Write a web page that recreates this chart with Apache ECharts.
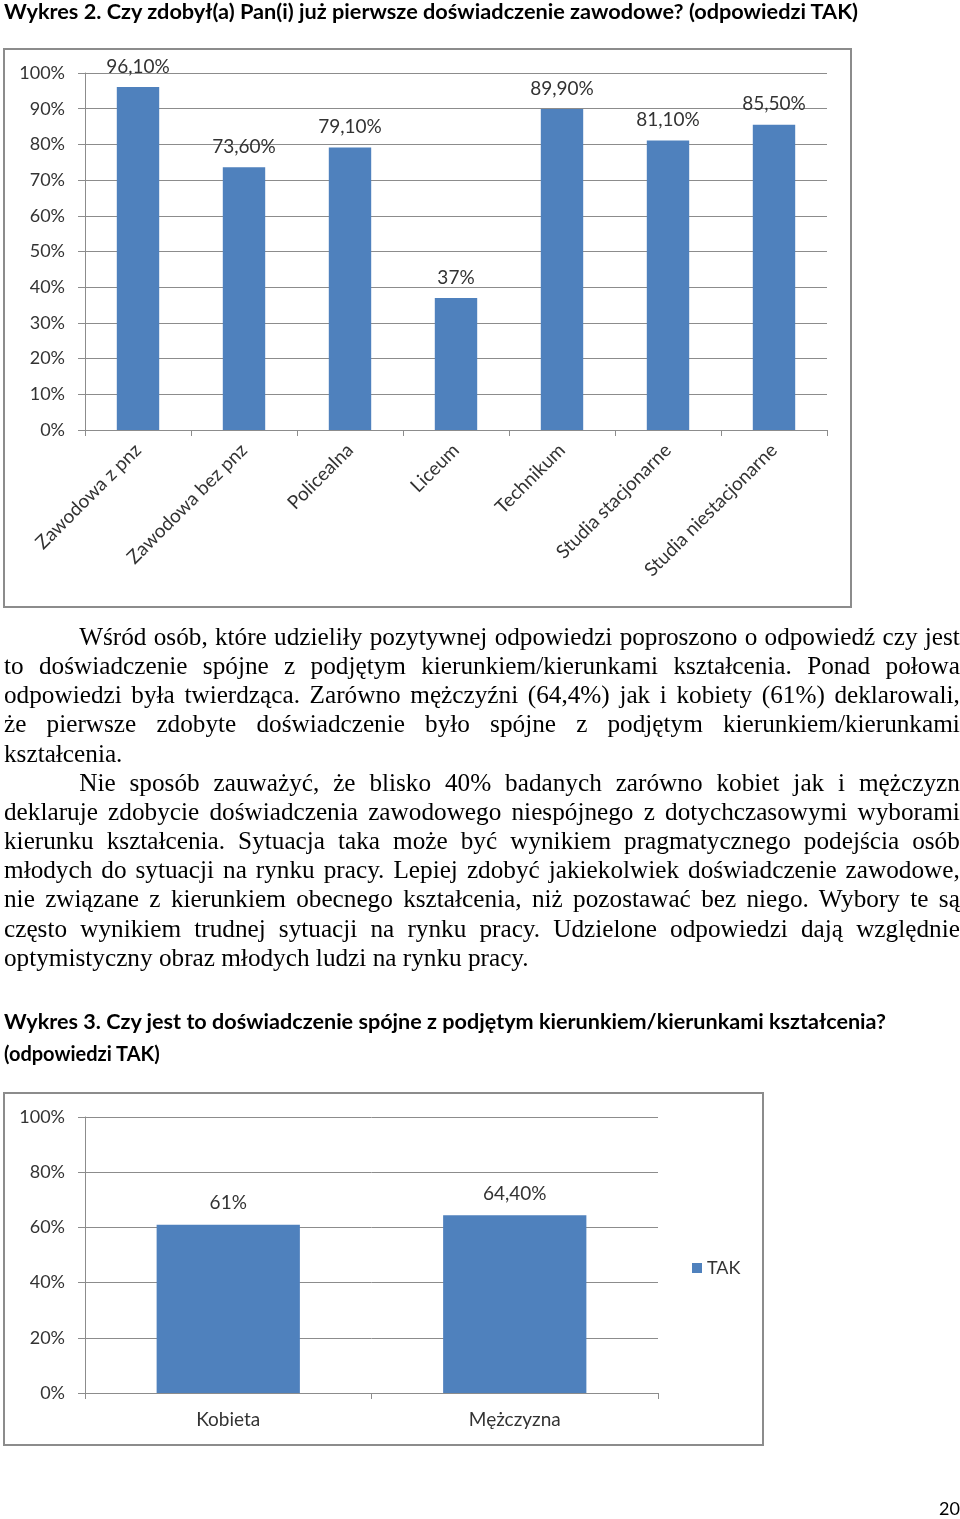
<!DOCTYPE html>
<html>
<head>
<meta charset="utf-8">
<script src="https://cdn.jsdelivr.net/npm/echarts@6/dist/echarts.min.js"></script>
<style>
  html, body { margin: 0; padding: 0; background: #fff; }
  #page { position: relative; width: 960px; height: 1519px; overflow: hidden; }
  #chart { position: absolute; left: 0; top: 0; width: 960px; height: 1519px; }
  .t { position: absolute; white-space: nowrap; font-family: Lato, "Open Sans", sans-serif; font-weight: bold; color: #000; }
  .p { position: absolute; left: 4px; width: 928px; transform: scaleX(1.03); transform-origin: left top; font-family: "Liberation Serif", "Times New Roman", serif; font-size: 24.5px; line-height: 29.15px; color: #000; }
  .p div { text-align: justify; text-align-last: justify; white-space: nowrap; }
  .p div.last { text-align-last: left; }
  .p div.ind { padding-left: 73px; }
</style>
</head>
<body>
<div id="page">
  <div id="chart"></div>
  <div class="t" id="t1" style="left:4px; top:0px; font-size:20px; line-height:22px;">Wykres 2. Czy zdobył(a) Pan(i) już pierwsze doświadczenie zawodowe? (odpowiedzi TAK)</div>
  <div class="p" style="top:622px;">
    <div class="ind">Wśród osób, które udzieliły pozytywnej odpowiedzi poproszono o odpowiedź czy jest</div>
    <div>to doświadczenie spójne z podjętym kierunkiem/kierunkami kształcenia. Ponad połowa</div>
    <div>odpowiedzi była twierdząca. Zarówno mężczyźni (64,4%) jak i kobiety (61%) deklarowali,</div>
    <div>że pierwsze zdobyte doświadczenie było spójne z podjętym kierunkiem/kierunkami</div>
    <div class="last">kształcenia.</div>
    <div class="ind">Nie sposób zauważyć, że blisko 40% badanych zarówno kobiet jak i mężczyzn</div>
    <div>deklaruje zdobycie doświadczenia zawodowego niespójnego z dotychczasowymi wyborami</div>
    <div>kierunku kształcenia. Sytuacja taka może być wynikiem pragmatycznego podejścia osób</div>
    <div>młodych do sytuacji na rynku pracy. Lepiej zdobyć jakiekolwiek doświadczenie zawodowe,</div>
    <div>nie związane z kierunkiem obecnego kształcenia, niż pozostawać bez niego. Wybory te są</div>
    <div>często wynikiem trudnej sytuacji na rynku pracy. Udzielone odpowiedzi dają względnie</div>
    <div class="last">optymistyczny obraz młodych ludzi na rynku pracy.</div>
  </div>
  <div class="t" id="t3a" style="left:4px; top:1009px; font-size:20px; line-height:24px;">Wykres 3. Czy jest to doświadczenie spójne z podjętym kierunkiem/kierunkami kształcenia?</div>
  <div class="t" id="t3b" style="left:4px; top:1041px; font-size:20px; line-height:24px;">(odpowiedzi TAK)</div>
  <div class="t" style="left:939px; top:1498px; font-size:18px; line-height:20px; font-weight:normal;">20</div>
</div>
<script>
// ---- data ----
const categories1 = ['Zawodowa z pnz', 'Zawodowa bez pnz', 'Policealna', 'Liceum', 'Technikum', 'Studia stacjonarne', 'Studia niestacjonarne'];
const values1 = [96.1, 73.6, 79.1, 37, 89.9, 81.1, 85.5];
const categories2 = ['Kobieta', 'Mężczyzna'];
const values2 = [61, 64.4];
const seriesName2 = 'TAK';
const yTicks1 = { min: 0, max: 100, interval: 10 };
const yTicks2 = { min: 0, max: 100, interval: 20 };

// fit titles to reference widths
function fit(id, w) {
  const el = document.getElementById(id);
  const cw = el.getBoundingClientRect().width;
  el.style.transformOrigin = 'left center';
  el.style.transform = 'scaleX(' + (w / cw) + ')';
}
fit('t1', 854);
fit('t3a', 882);

const txt = '#333333';
const gridCol = '#8c8c8c';
const barCol = '#4f81bd';
const font = 'Lato, "Open Sans", sans-serif';

function pct(v) {
  return Number.isInteger(v) ? v + '%' : v.toFixed(2).replace('.', ',') + '%';
}

function xAx(gi, data, rotate, margin, fs) {
  return {
    type: 'category', gridIndex: gi, data: data,
    axisLine: { show: true, lineStyle: { color: gridCol, width: 1 } },
    axisTick: { show: true, length: 6, alignWithLabel: false, lineStyle: { color: gridCol } },
    axisLabel: { rotate: rotate, margin: margin, color: txt, fontSize: fs, fontFamily: font, interval: 0 }
  };
}
function yAx(gi, t) {
  return {
    type: 'value', gridIndex: gi, min: t.min, max: t.max, interval: t.interval,
    axisLine: { show: true, lineStyle: { color: gridCol, width: 1 } },
    axisTick: { show: true, length: 7, lineStyle: { color: gridCol } },
    splitLine: { show: true, lineStyle: { color: gridCol, width: 1 } },
    axisLabel: { formatter: '{value}%', margin: 20, color: txt, fontSize: 18, fontFamily: font }
  };
}

const chart = echarts.init(document.getElementById('chart'), null, { renderer: 'canvas' });
chart.setOption({
  animation: false,
  backgroundColor: '#fff',
  graphic: [
    { type: 'rect', shape: { x: 4, y: 49, width: 847, height: 558 }, style: { fill: 'none', stroke: '#8c8c8c', lineWidth: 2 }, z: -1 },
    { type: 'rect', shape: { x: 4, y: 1093, width: 759, height: 352 }, style: { fill: 'none', stroke: '#8c8c8c', lineWidth: 2 }, z: -1 }
  ],
  legend: {
    data: [seriesName2], left: 692, top: 1259, padding: 0, icon: 'rect', itemWidth: 10, itemHeight: 10, itemGap: 5,
    textStyle: { color: txt, fontSize: 18, fontFamily: font }
  },
  grid: [
    { left: 85, top: 73, width: 742, height: 357, containLabel: false },
    { left: 85, top: 1117, width: 573, height: 276, containLabel: false }
  ],
  xAxis: [xAx(0, categories1, 45, 17, 19), xAx(1, categories2, 0, 17, 19)],
  yAxis: [yAx(0, yTicks1), yAx(1, yTicks2)],
  series: [
    {
      name: 'Wykres 2', type: 'bar', xAxisIndex: 0, yAxisIndex: 0, data: values1,
      barCategoryGap: '60%', itemStyle: { color: barCol },
      label: { show: true, position: 'top', distance: 11, color: txt, fontSize: 19, fontFamily: font, formatter: p => pct(p.value) }
    },
    {
      name: seriesName2, type: 'bar', xAxisIndex: 1, yAxisIndex: 1, data: values2,
      barCategoryGap: '50%', itemStyle: { color: barCol },
      label: { show: true, position: 'top', distance: 12, color: txt, fontSize: 19, fontFamily: font, formatter: p => pct(p.value) }
    }
  ]
});
</script>
</body>
</html>
